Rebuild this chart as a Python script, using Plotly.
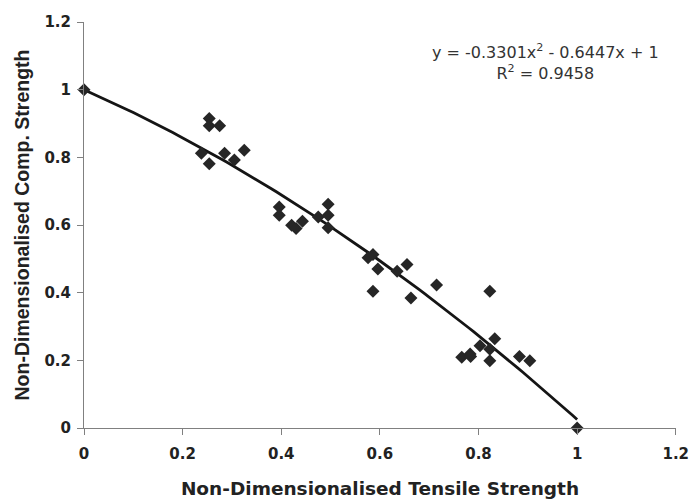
import plotly.graph_objects as go
import numpy as np

tensile = [0.0, 0.238, 0.254, 0.254, 0.275, 0.254, 0.285, 0.305, 0.325,
           0.396, 0.396, 0.421, 0.43, 0.443, 0.475, 0.495, 0.495, 0.495,
           0.576, 0.586, 0.596, 0.586, 0.635, 0.655, 0.663, 0.715,
           0.766, 0.783, 0.784, 0.803, 0.823, 0.823, 0.823, 0.833,
           0.883, 0.904, 1.0]
comp = [1.0, 0.812, 0.915, 0.893, 0.893, 0.781, 0.812, 0.792, 0.821,
        0.653, 0.629, 0.599, 0.59, 0.611, 0.624, 0.661, 0.629, 0.592,
        0.503, 0.513, 0.470, 0.404, 0.463, 0.483, 0.384, 0.423,
        0.209, 0.219, 0.211, 0.243, 0.404, 0.233, 0.199, 0.264,
        0.211, 0.199, 0.0]

tick_vals = [0, 0.2, 0.4, 0.6, 0.8, 1, 1.2]
tick_text = ["0", "0.2", "0.4", "0.6", "0.8", "1", "1.2"]

coef_a = -0.3301
coef_b = -0.6447
coef_c = 1.0
r_squared = 0.9458

trend_x = np.linspace(0, 1, 101)
trend_y = coef_a * trend_x**2 + coef_b * trend_x + coef_c

fig = go.Figure()
fig.add_trace(go.Scatter(x=trend_x, y=trend_y, mode="lines",
                         line=dict(color="#151515", width=2.8),
                         showlegend=False))
fig.add_trace(go.Scatter(x=tensile, y=comp, mode="markers",
                         marker=dict(symbol="diamond", size=10, color="#262626"),
                         showlegend=False))

fig.add_annotation(
    x=0.935, y=1.15, xref="x", yref="y", showarrow=False,
    text=f"y = {coef_a:.4f}x<sup>2</sup> - {abs(coef_b):.4f}x + {coef_c:g}<br>R<sup>2</sup> = {r_squared:.4f}",
    font=dict(family="DejaVu Sans", size=16, color="#333333"),
    align="center", yanchor="top")

tickfont = dict(family="DejaVu Sans", size=15, color="#222222", weight="bold")
fig.update_layout(
    width=690, height=499,
    margin=dict(l=84, r=14, t=22, b=71),
    plot_bgcolor="white", paper_bgcolor="white",
    font=dict(family="DejaVu Sans", color="#222222"),
    xaxis=dict(range=[0, 1.2005], tickvals=tick_vals, ticktext=tick_text,
               automargin=False, ticklabeloverflow="allow",
               showgrid=False, zeroline=False, showline=True,
               linecolor="#808080", linewidth=1, ticks="outside",
               tickcolor="#808080", ticklen=6, ticklabelstandoff=6,
               tickfont=tickfont,
               title=dict(text="<b>Non-Dimensionalised Tensile Strength</b>",
                          font=dict(family="DejaVu Sans", size=18.5, color="#222222"),
                          standoff=24)),
    yaxis=dict(range=[0, 1.2], tickvals=tick_vals, ticktext=tick_text,
               automargin=False, ticklabeloverflow="allow",
               showgrid=False, zeroline=False, showline=True,
               linecolor="#808080", linewidth=1, ticks="outside",
               tickcolor="#808080", ticklen=6, ticklabelstandoff=3,
               tickfont=tickfont,
               title=dict(text="<b>Non-Dimensionalised Comp. Strength</b>",
                          font=dict(family="Liberation Sans", size=19.5, color="#222222"),
                          standoff=9)),
)
fig.update_traces(cliponaxis=False)

fig.write_html("out.html", config={"displayModeBar": False},
               post_script="document.body.style.margin='0';")
